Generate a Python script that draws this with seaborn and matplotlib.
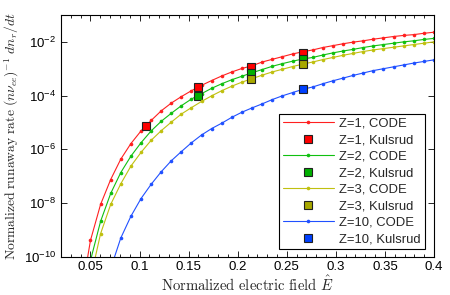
import numpy as np
import pandas as pd
import matplotlib
matplotlib.use('Agg')
import matplotlib.pyplot as plt
import seaborn as sns
from matplotlib.ticker import FixedLocator, MultipleLocator, FixedFormatter

# Normalized electric field grid of the CODE runs
e_code = [0.0397, 0.0500, 0.0603, 0.0706, 0.0809, 0.0912, 0.1015, 0.1118, 0.1221,
          0.1324, 0.1426, 0.1529, 0.1632, 0.1735, 0.1838, 0.1941, 0.2044, 0.2147,
          0.2250, 0.2353, 0.2456, 0.2559, 0.2662, 0.2765, 0.2868, 0.2971, 0.3074,
          0.3176, 0.3279, 0.3382, 0.3485, 0.3588, 0.3691, 0.3794, 0.3897, 0.4000]

# log10 of the normalized runaway rate
log_z1 = [-11.64, -9.40, -8.06, -7.13, -6.37, -5.79, -5.32, -4.93, -4.57, -4.28, -4.04,
          -3.82, -3.62, -3.44, -3.27, -3.12, -2.99, -2.89, -2.75, -2.65, -2.55, -2.45,
          -2.37, -2.30, -2.21, -2.14, -2.07, -2.01, -1.96, -1.90, -1.85, -1.80, -1.76,
          -1.73, -1.68, -1.64]
log_z2 = [-12.50, -10.15, -8.69, -7.65, -6.87, -6.26, -5.76, -5.32, -4.96, -4.66, -4.38,
          -4.13, -3.93, -3.73, -3.56, -3.41, -3.28, -3.15, -3.03, -2.91, -2.81, -2.72,
          -2.64, -2.58, -2.49, -2.41, -2.34, -2.28, -2.21, -2.15, -2.10, -2.05, -2.00,
          -1.96, -1.91, -1.87]
log_z3 = [-13.20, -10.83, -9.15, -8.06, -7.29, -6.63, -6.12, -5.67, -5.31, -4.99, -4.69,
          -4.45, -4.22, -4.01, -3.82, -3.65, -3.50, -3.37, -3.24, -3.12, -3.02, -2.92,
          -2.83, -2.75, -2.66, -2.58, -2.50, -2.43, -2.36, -2.30, -2.25, -2.20, -2.15,
          -2.10, -2.05, -2.00]
log_z10 = [-16.0, -14.0, -12.2, -10.45, -9.31, -8.50, -7.84, -7.31, -6.84, -6.43, -6.09,
           -5.76, -5.47, -5.23, -5.03, -4.81, -4.62, -4.46, -4.31, -4.15, -4.01, -3.89,
           -3.77, -3.68, -3.56, -3.45, -3.35, -3.25, -3.16, -3.07, -3.00, -2.93, -2.86,
           -2.79, -2.73, -2.67]

# Kulsrud reference values
e_kul_z1 = [0.1067, 0.1600, 0.2133, 0.2667]
rate_kul_z1 = [7.2e-6, 2.1e-4, 1.2e-3, 3.9e-3]
e_kul_z2 = [0.1600, 0.2133, 0.2667]
rate_kul_z2 = [1.0e-4, 7.1e-4, 2.4e-3]
e_kul_z3 = [0.2133, 0.2667]
rate_kul_z3 = [4.0e-4, 1.5e-3]
e_kul_z10 = [0.2667]
rate_kul_z10 = [1.7e-4]

z_values = [1, 2, 3, 10]
line_colors = ['#ff2020', '#10c010', '#c0c010', '#2050ff']
box_colors = ['#ff0000', '#00b000', '#a8a800', '#0040ff']

sns.set_style('ticks')
plt.rcParams['font.family'] = ['Liberation Sans', 'DejaVu Sans']
plt.rcParams['mathtext.fontset'] = 'custom'
plt.rcParams['mathtext.rm'] = 'Liberation Sans'
plt.rcParams['mathtext.it'] = 'Liberation Sans:italic'

fig = plt.figure(figsize=(4.5, 2.95), dpi=100)
ax = fig.add_axes([0.1356, 0.1305, 0.8288, 0.8185])

code_logs = [log_z1, log_z2, log_z3, log_z10]
kul_e = [e_kul_z1, e_kul_z2, e_kul_z3, e_kul_z10]
kul_rate = [rate_kul_z1, rate_kul_z2, rate_kul_z3, rate_kul_z10]

handles = []
labels = []
for z, logs, ke, kr, lc, bc in zip(z_values, code_logs, kul_e, kul_rate, line_colors, box_colors):
    df = pd.DataFrame({'E': e_code, 'rate': 10.0 ** np.array(logs)})
    sns.lineplot(data=df, x='E', y='rate', color=lc, lw=0.8, marker='o',
                 markersize=2.6, markeredgewidth=0, ax=ax, label=f'Z={z}, CODE')
    line = ax.lines[-1]
    kdf = pd.DataFrame({'E': ke, 'rate': kr})
    ax.plot(kdf['E'], kdf['rate'], ls='none', marker='s', markersize=5.2,
            markerfacecolor=bc, markeredgecolor='#202020', markeredgewidth=0.8)
    sq = ax.lines[-1]
    handles += [line, sq]
    labels += [f'Z={z}, CODE', f'Z={z}, Kulsrud']

ax.set_yscale('log')
ax.set_xlim(0.02, 0.4)
ax.set_ylim(1e-10, 1e-1)

yt = [1e-10, 1e-8, 1e-6, 1e-4, 1e-2]
ax.yaxis.set_major_locator(FixedLocator(yt))
ax.yaxis.set_major_formatter(FixedFormatter([r'$10^{-10}$', r'$10^{-8}$', r'$10^{-6}$',
                                             r'$10^{-4}$', r'$10^{-2}$']))
ax.yaxis.set_minor_locator(FixedLocator([]))
ax.xaxis.set_major_locator(FixedLocator([0.05, 0.1, 0.15, 0.2, 0.25, 0.3, 0.35, 0.4]))
ax.xaxis.set_major_formatter(FixedFormatter(['0.05', '0.1', '0.15', '0.2', '0.25',
                                             '0.3', '0.35', '0.4']))
ax.xaxis.set_minor_locator(MultipleLocator(0.01))
ax.tick_params(which='both', direction='in', top=True, right=True, width=0.6,
               labelsize=9.5, colors='black')
ax.tick_params(which='major', length=4)
ax.tick_params(which='minor', length=2)
for sp in ax.spines.values():
    sp.set_linewidth(0.8)
    sp.set_color('black')

ax.set_xlabel(r'$\mathrm{Normalized\ electric\ field}\ \hat{E}$', fontsize=10.6,
              math_fontfamily='cm', labelpad=1)
ax.set_ylabel(r'$\mathrm{Normalized\ runaway\ rate}\ (n\nu_{ee})^{-1}\ dn_r/dt$',
              fontsize=9.8, math_fontfamily='cm', labelpad=2)

leg = ax.legend(handles, labels, loc='lower right', bbox_to_anchor=(0.976, 0.031),
                borderaxespad=0, fontsize=9.4, frameon=True, fancybox=False,
                edgecolor='black', framealpha=1, handlelength=3.9, handletextpad=0.45,
                labelspacing=0.33, borderpad=0.3)
leg.get_frame().set_linewidth(0.8)

fig.savefig('out.png', dpi=100)
